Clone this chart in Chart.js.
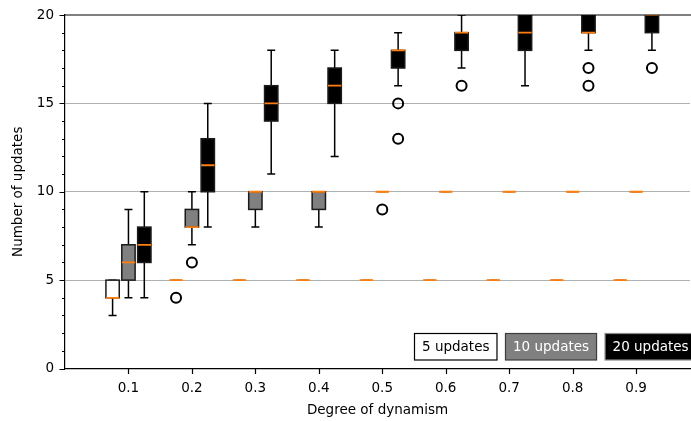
<!DOCTYPE html>
<html>
<head>
<meta charset="utf-8">
<script src="https://cdn.jsdelivr.net/npm/chart.js@4.4.1/dist/chart.umd.min.js"></script>
<style>
  html, body { margin: 0; padding: 0; background: #fff; }
  #wrap { width: 691px; height: 421px; position: relative; }
</style>
</head>
<body>
<div id="wrap"><canvas id="c"></canvas></div>
<script>
// --- data ---
const positions = [0.1, 0.2, 0.3, 0.4, 0.5, 0.6, 0.7, 0.8, 0.9];
const xTicks = [0.1, 0.2, 0.3, 0.4, 0.5, 0.6, 0.7, 0.8, 0.9];
const yTicks = [0, 5, 10, 15, 20];
const groupNames = ['5 updates', '10 updates', '20 updates'];

// 5 updates
const q1_5  = [4, 5, 5, 5, 5, 5, 5, 5, 5];
const med_5 = [4, 5, 5, 5, 5, 5, 5, 5, 5];
const q3_5  = [5, 5, 5, 5, 5, 5, 5, 5, 5];
const lo_5  = [3, 5, 5, 5, 5, 5, 5, 5, 5];
const hi_5  = [5, 5, 5, 5, 5, 5, 5, 5, 5];
const out_5 = [[], [4], [], [], [], [], [], [], []];

// 10 updates
const q1_10  = [5, 8, 9, 9, 10, 10, 10, 10, 10];
const med_10 = [6, 8, 10, 10, 10, 10, 10, 10, 10];
const q3_10  = [7, 9, 10, 10, 10, 10, 10, 10, 10];
const lo_10  = [4, 7, 8, 8, 10, 10, 10, 10, 10];
const hi_10  = [9, 10, 10, 10, 10, 10, 10, 10, 10];
const out_10 = [[], [6], [], [], [9], [], [], [], []];

// 20 updates
const q1_20  = [6, 10, 14, 15, 17, 18, 18, 19, 19];
const med_20 = [7, 11.5, 15, 16, 18, 19, 19, 19, 20];
const q3_20  = [8, 13, 16, 17, 18, 19, 20, 20, 20];
const lo_20  = [4, 8, 11, 12, 16, 17, 16, 18, 18];
const hi_20  = [10, 15, 18, 18, 19, 20, 20, 20, 20];
const out_20 = [[], [], [], [], [15, 13], [16], [], [17, 16], [17]];

// --- styling ---
const FONT = 'DejaVu Sans';
const FS = 13.5;
const groupOffsets = [-0.025, 0, 0.025];
const boxHalf = 0.0105;     // in x units
const capHalf = 4;          // px
const groups = [
  { q1: q1_5,  med: med_5,  q3: q3_5,  lo: lo_5,  hi: hi_5,  out: out_5,  fill: '#ffffff', text: '#000', edge: '#000' },
  { q1: q1_10, med: med_10, q3: q3_10, lo: lo_10, hi: hi_10, out: out_10, fill: '#808080', text: '#fff', edge: '#3c3c3c' },
  { q1: q1_20, med: med_20, q3: q3_20, lo: lo_20, hi: hi_20, out: out_20, fill: '#000000', text: '#fff', edge: '#8a8a8a' }
];

// outliers go through a scatter dataset
const outlierSets = groups.map((g, gi) => {
  const pts = [];
  g.out.forEach((vals, i) => vals.forEach(v => pts.push({ x: positions[i] + groupOffsets[gi], y: v })));
  return {
    type: 'scatter',
    label: groupNames[gi],
    data: pts,
    pointRadius: 5,
    pointHoverRadius: 5,
    pointBorderWidth: 2,
    pointBackgroundColor: 'rgba(0,0,0,0)',
    pointBorderColor: '#000'
  };
});

const boxPlugin = {
  id: 'boxes',
  beforeDatasetsDraw(chart) {
    const { ctx, chartArea: a, scales: { x, y } } = chart;
    ctx.save();
    ctx.beginPath();
    ctx.rect(a.left, a.top, a.right - a.left, a.bottom - a.top);
    ctx.clip();
    groups.forEach((g, gi) => {
      positions.forEach((p, i) => {
        const xc = x.getPixelForValue(p + groupOffsets[gi]);
        const xl = x.getPixelForValue(p + groupOffsets[gi] - boxHalf);
        const xr = x.getPixelForValue(p + groupOffsets[gi] + boxHalf);
        const yq1 = y.getPixelForValue(g.q1[i]);
        const yq3 = y.getPixelForValue(g.q3[i]);
        const ylo = y.getPixelForValue(g.lo[i]);
        const yhi = y.getPixelForValue(g.hi[i]);
        const ym = y.getPixelForValue(g.med[i]);
        ctx.strokeStyle = '#000';
        ctx.lineWidth = 1.5;
        // whiskers
        ctx.beginPath();
        ctx.moveTo(xc, yq1); ctx.lineTo(xc, ylo);
        ctx.moveTo(xc, yq3); ctx.lineTo(xc, yhi);
        ctx.moveTo(xc - capHalf, ylo); ctx.lineTo(xc + capHalf, ylo);
        ctx.moveTo(xc - capHalf, yhi); ctx.lineTo(xc + capHalf, yhi);
        ctx.stroke();
        // box
        ctx.fillStyle = g.fill;
        ctx.fillRect(xl, yq3, xr - xl, yq1 - yq3);
        ctx.strokeStyle = g.q1[i] === g.q3[i] ? '#b0b0b0' : '#1a1a1a';
        ctx.lineWidth = 1.5;
        ctx.strokeRect(xl, yq3, xr - xl, yq1 - yq3);
        // median
        ctx.strokeStyle = '#ff7f0e';
        ctx.lineWidth = 1.8;
        ctx.beginPath();
        ctx.moveTo(xl, ym); ctx.lineTo(xr, ym);
        ctx.stroke();
      });
    });
    ctx.restore();
  },
  afterDraw(chart) {
    const { ctx, chartArea: a, scales: { x, y } } = chart;
    ctx.save();
    ctx.strokeStyle = '#000';
    ctx.lineWidth = 1.2;
    // top spine
    ctx.beginPath();
    ctx.moveTo(a.left, a.top); ctx.lineTo(a.right + 2, a.top);
    ctx.stroke();
    // y ticks (major + minor)
    ctx.beginPath();
    for (let v = 0; v <= 20; v++) {
      const py = Math.round(y.getPixelForValue(v)) + 0.5;
      const len = yTicks.includes(v) ? 5.5 : 3;
      ctx.moveTo(a.left - len, py); ctx.lineTo(a.left, py);
    }
    // x ticks
    xTicks.forEach(v => {
      const px = Math.round(x.getPixelForValue(v)) + 0.5;
      ctx.moveTo(px, a.bottom); ctx.lineTo(px, a.bottom + 5.5);
    });
    ctx.stroke();

    // legend text boxes
    ctx.font = FS + 'px "' + FONT + '"';
    ctx.textBaseline = 'middle';
    const pad = 7.5, gap = 8.5, top = 333.5, h = 26.5;
    let bx = 414.5;
    groups.forEach((g, gi) => {
      const w = ctx.measureText(groupNames[gi]).width + 2 * pad;
      ctx.fillStyle = g.fill;
      ctx.fillRect(bx, top, w, h);
      ctx.strokeStyle = g.edge;
      ctx.lineWidth = 1.2;
      ctx.strokeRect(bx, top, w, h);
      ctx.fillStyle = g.text;
      ctx.fillText(groupNames[gi], bx + pad, top + h / 2 + 0.5);
      bx += w + gap;
    });
    ctx.restore();
  }
};

new Chart(document.getElementById('c'), {
  type: 'scatter',
  data: { datasets: outlierSets },
  options: {
    responsive: true,
    maintainAspectRatio: false,
    animation: false,
    layout: { autoPadding: false, padding: { top: 15, right: 1, left: 0, bottom: 0 } },
    plugins: { legend: { display: false }, tooltip: { enabled: false } },
    scales: {
      x: {
        type: 'linear',
        min: 0, max: 0.985,
        afterBuildTicks: s => { s.ticks = xTicks.map(v => ({ value: v })); },
        afterFit: s => { s.height = 52.5; s.paddingLeft = 0; s.paddingRight = 0; },
        grid: { display: false, drawTicks: false },
        border: { display: true, color: '#000', width: 1.2 },
        ticks: {
          color: '#000', padding: 12, autoSkip: false, maxRotation: 0,
          font: { family: FONT, size: FS },
          callback: v => v.toFixed(1)
        },
        title: {
          display: true, text: 'Degree of dynamism', color: '#000',
          font: { family: FONT, size: FS }, padding: { top: 2, bottom: 2 }
        }
      },
      y: {
        min: 0, max: 20,
        afterBuildTicks: s => {
          const t = [];
          for (let v = 0; v <= 20; v++) t.push({ value: v });
          s.ticks = t;
        },
        afterFit: s => { s.width = 65; s.paddingTop = 0; s.paddingBottom = 0; },
        grid: {
          drawTicks: false,
          color: c => (c.tick && [5, 10, 15].includes(c.tick.value)) ? '#b0b0b0' : 'rgba(0,0,0,0)',
          lineWidth: 1.1
        },
        border: { display: true, color: '#000', width: 1.2 },
        ticks: {
          color: '#000', padding: 11, autoSkip: false,
          font: { family: FONT, size: FS },
          callback: v => yTicks.includes(v) ? String(v) : ''
        },
        title: {
          display: true, text: 'Number of updates', color: '#000',
          font: { family: FONT, size: FS }, padding: { top: 10, bottom: 0 }
        }
      }
    }
  },
  plugins: [boxPlugin]
});
</script>
</body>
</html>
